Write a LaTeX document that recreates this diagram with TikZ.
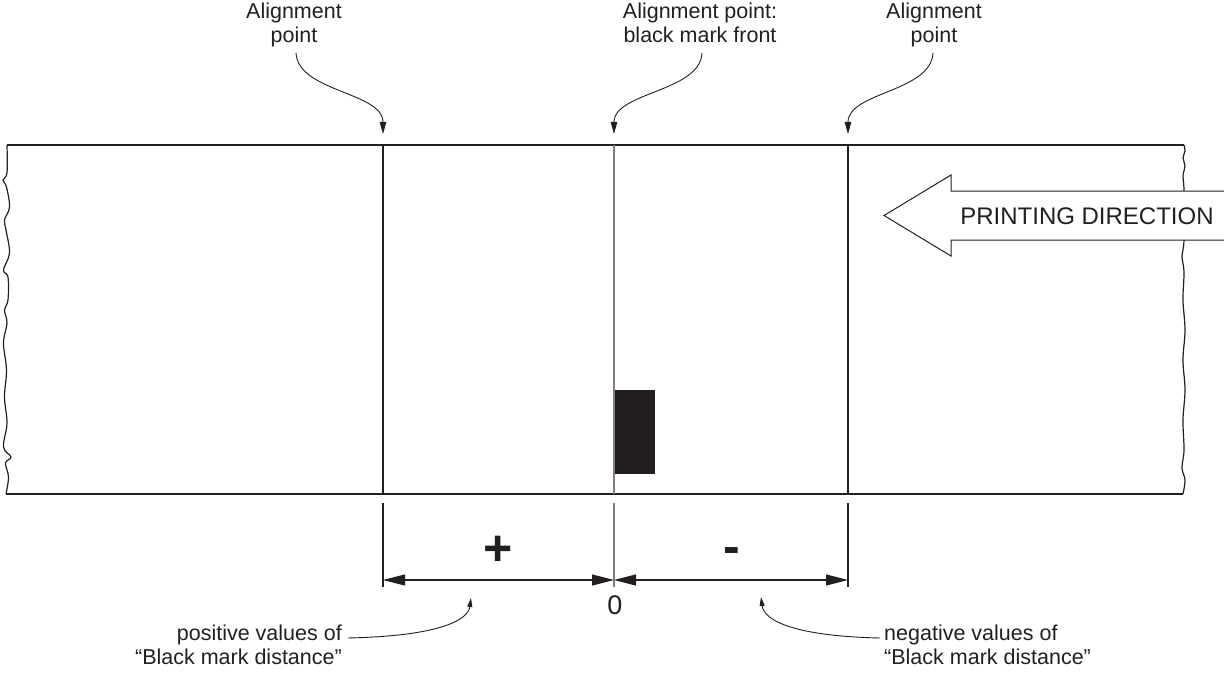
\documentclass[tikz,border=0pt]{standalone}
\usepackage{fontspec}
\setmainfont{Liberation Sans}
\usetikzlibrary{arrows.meta}
\definecolor{ink}{HTML}{231F20}
\definecolor{zeroline}{HTML}{7F7F7F}
\begin{document}
\begin{tikzpicture}[x=1pt,y=-1pt,
  tape/.style={line width=1.2pt, draw=ink},
  lbl/.style={font=\fontsize{21.5}{24}\selectfont, text=ink, inner sep=0pt},
  callout/.style={line width=0.9pt, draw=ink, -{Triangle[length=12pt,width=6.5pt]}},
  callsmall/.style={line width=0.9pt, draw=ink, -{Triangle[length=9pt,width=5pt]}},
  dimline/.style={line width=1.1pt, draw=ink, {Triangle[length=22pt,width=11pt]}-{Triangle[length=22pt,width=11pt]}},
  extline/.style={line width=1.1pt, draw=ink},
  sign/.style={font=\fontsize{50}{50}\bfseries\selectfont, text=ink, inner sep=0pt},
]
\useasboundingbox (0,0) rectangle (1224,674);

% tape
\coordinate (tl) at (7,145);
\coordinate (tr) at (1184,145);
\coordinate (bl) at (6,494);
\coordinate (br) at (1183,494);
\draw[tape] (tl) -- (tr);
\draw[tape] (bl) -- (br);
\draw[tape] plot[smooth, tension=0.6] coordinates {(7,145) (7,173) (3,180) (6.5,187) (9.5,207) (4.5,220) (6,230) (9.5,253) (3.5,270) (8,277) (8,300) (4.5,310) (7,323) (3.5,343) (6.5,370) (4.5,397) (7,423) (3.5,447) (11,457) (5.5,463) (8.5,477) (6,494)};
\draw[tape] plot[smooth, tension=0.6] coordinates {(1184,145) (1185,151) (1183,158) (1185,166) (1183,176) (1184,191) (1184,240) (1182,256) (1184,272) (1183,300) (1185,330) (1183,360) (1185,390) (1183,420) (1184,450) (1182,468) (1185,480) (1183,494)};

% alignment lines
\coordinate (p1t) at (383,145); \coordinate (p1b) at (383,494);
\coordinate (p0t) at (614,145); \coordinate (p0b) at (614,494);
\coordinate (p2t) at (848,145); \coordinate (p2b) at (848,494);
\draw[tape] (p1t) -- (p1b);
\draw[tape] (p2t) -- (p2b);
\fill[ink] (615,390) rectangle (655,474);
\draw[line width=1.5pt, zeroline] (p0t) -- (p0b);

% printing direction arrow
\filldraw[line width=1pt, draw=ink, fill=white] (1226,191) -- (951,191) -- (951,175) -- (884,215.5) -- (951,256) -- (951,240) -- (1226,240);
\node[font=\fontsize{24}{28}\selectfont, text=ink, inner sep=0pt] (pd) at (1087,216) {PRINTING DIRECTION};

% top labels
\node[lbl, align=center, anchor=north] (a1) at (294,3) {Alignment\\point};
\node[lbl, align=center, anchor=north] (a0) at (700,3) {Alignment point:\\black mark front};
\node[lbl, align=center, anchor=north] (a2) at (934,3) {Alignment\\point};
\coordinate (c1s) at (296,53); \coordinate (c1e) at (383,134);
\coordinate (c0s) at (702,53); \coordinate (c0e) at (614,134);
\coordinate (c2s) at (933,53); \coordinate (c2e) at (848,134);
\draw[callout] (c1s) .. controls (298,92) and (383,92) .. (c1e);
\draw[callout] (c0s) .. controls (700,92) and (614,92) .. (c0e);
\draw[callout] (c2s) .. controls (931,92) and (848,92) .. (c2e);

% dimension
\coordinate (e1t) at (383,503); \coordinate (e1b) at (383,587);
\coordinate (e0t) at (614,503); \coordinate (e0b) at (614,587);
\coordinate (e2t) at (848,503); \coordinate (e2b) at (848,587);
\draw[extline] (e1t) -- (e1b);
\draw[extline] (e2t) -- (e2b);
\draw[line width=1.5pt, zeroline] (e0t) -- (e0b);
\coordinate (d1) at (383,580); \coordinate (d0) at (614,580); \coordinate (d2) at (848,580);
\draw[dimline] (d1) -- (d0);
\draw[dimline] (d0) -- (d2);
\node[sign] (plus) at (498.5,551) {+};
\node[sign] (minus) at (731.5,556) {-};
\node[font=\fontsize{27}{30}\selectfont, text=ink, inner sep=0pt] (zero) at (615,605) {0};

% bottom labels
\node[lbl, align=right, anchor=north east] (pos) at (342,625) {positive values of\\“Black mark distance”};
\node[lbl, align=left, anchor=north west] (neg) at (884,625) {negative values of\\“Black mark distance”};
\coordinate (ps) at (348,638); \coordinate (pe) at (471,598);
\coordinate (ns) at (880,638); \coordinate (ne) at (761,597);
\draw[callsmall] (ps) .. controls (440,636) and (468,620) .. (pe);
\draw[callsmall] (ns) .. controls (792,636) and (764,620) .. (ne);
\end{tikzpicture}
\end{document}
